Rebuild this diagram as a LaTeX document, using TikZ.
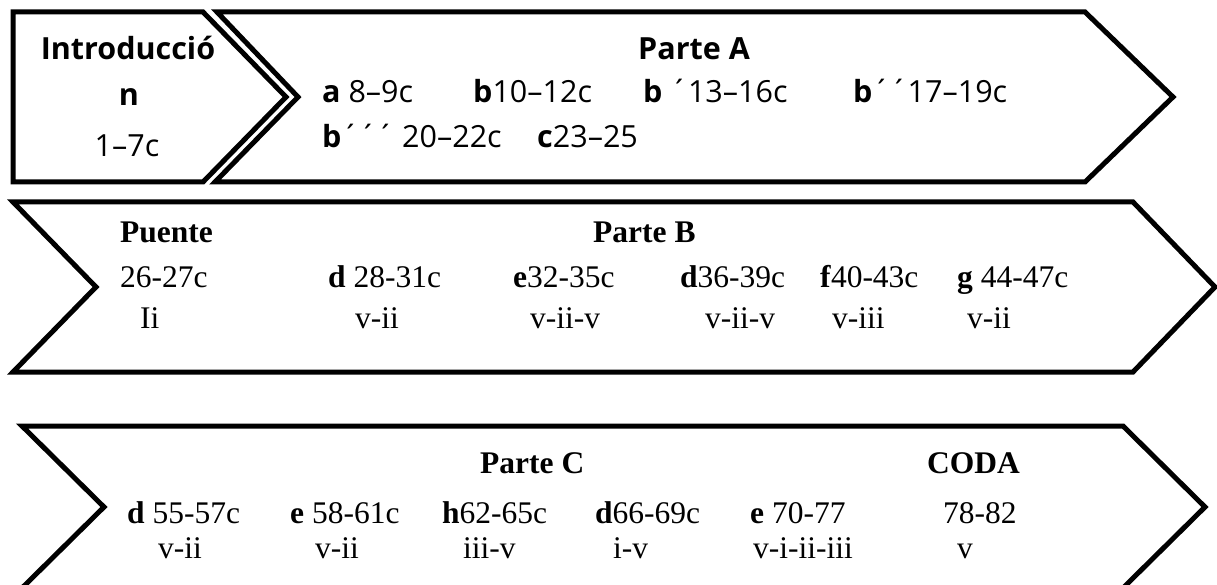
\documentclass[tikz,border=0pt]{standalone}
\usepackage{fontspec}
\setmainfont{Liberation Serif}
\newfontfamily\osans{Open Sans}
\tikzset{
  outline/.style={draw=black, line width=5pt, line join=miter, fill=white},
  stxt/.style={anchor=base west, inner sep=0pt, font=\osans\fontsize{30.5}{36}\selectfont},
  sctr/.style={anchor=base, inner sep=0pt, font=\osans\fontsize{30.5}{36}\selectfont},
  rtxt/.style={anchor=base west, inner sep=0pt, font=\fontsize{31.5}{36}\selectfont},
}
\begin{document}
\begin{tikzpicture}[x=1pt,y=-1pt]
\useasboundingbox (0,0) rectangle (1217,585);
\clip (0,0) rectangle (1217,585);
% shapes
\draw[outline] (13,12) -- (203,12) -- (286,97) -- (203,182) -- (13,182) -- cycle;
\draw[outline] (217,12) -- (1085,12) -- (1173,97) -- (1085,182) -- (215,182) -- (298,97) -- cycle;
\draw[outline] (13,202) -- (1133,202) -- (1215,287) -- (1133,372) -- (13,372) -- (96,287) -- cycle;
\draw[outline] (22,426) -- (1123,426) -- (1205,507) -- (1123,588) -- (22,588) -- (104,507) -- cycle;
% top row
\node[sctr] (intro1) at (128,60) {\bfseries Introducció};
\node[sctr] (intro2) at (129,106) {\bfseries n};
\node[sctr] (intro3) at (127,157) {1–7c};
\node[stxt] (parteA) at (638,60) {\bfseries Parte A};
\node[stxt] (a1) at (322,103) {\textbf{a} 8–9c};
\node[stxt] (a2) at (473,103) {\textbf{b}10–12c};
\node[stxt] (a3) at (643,103) {\textbf{b} ´13–16c};
\node[stxt] (a4) at (853,103) {\textbf{b}´´17–19c};
\node[stxt] (a5) at (322,148) {\textbf{b}´´´ 20–22c};
\node[stxt] (a6) at (537,148) {\textbf{c}23–25};
% second row
\node[rtxt] (puente) at (120,243) {\textbf{Puente}};
\node[rtxt] (parteB) at (593,243) {\textbf{Parte B}};
\node[rtxt] (b1) at (120,287) {26-27c};
\node[rtxt] (b2) at (328,287) {\textbf{d} 28-31c};
\node[rtxt] (b3) at (513,287) {\textbf{e}32-35c};
\node[rtxt] (b4) at (680,287) {\textbf{d}36-39c};
\node[rtxt] (b5) at (820,287) {\textbf{f}40-43c};
\node[rtxt] (b6) at (957,287) {\textbf{g} 44-47c};
\node[rtxt] (r1) at (140,328) {Ii};
\node[rtxt] (r2) at (355,328) {v-ii};
\node[rtxt] (r3) at (530,328) {v-ii-v};
\node[rtxt] (r4) at (705,328) {v-ii-v};
\node[rtxt] (r5) at (832,328) {v-iii};
\node[rtxt] (r6) at (967,328) {v-ii};
% third row
\node[rtxt] (parteC) at (480,473) {\textbf{Parte C}};
\node[rtxt] (coda) at (927,473) {\textbf{CODA}};
\node[rtxt] (c1) at (127,523) {\textbf{d} 55-57c};
\node[rtxt] (c2) at (290,523) {\textbf{e} 58-61c};
\node[rtxt] (c3) at (442,523) {\textbf{h}62-65c};
\node[rtxt] (c4) at (595,523) {\textbf{d}66-69c};
\node[rtxt] (c5) at (750,523) {\textbf{e} 70-77};
\node[rtxt] (c6) at (943,523) {78-82};
\node[rtxt] (s1) at (158,558) {v-ii};
\node[rtxt] (s2) at (315,558) {v-ii};
\node[rtxt] (s3) at (463,558) {iii-v};
\node[rtxt] (s4) at (613,558) {i-v};
\node[rtxt] (s5) at (753,558) {v-i-ii-iii};
\node[rtxt] (s6) at (957,558) {v};
\end{tikzpicture}
\end{document}
